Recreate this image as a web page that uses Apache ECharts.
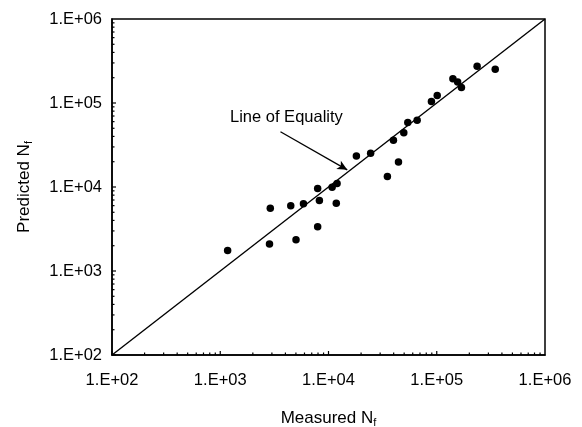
<!DOCTYPE html>
<html>
<head>
<meta charset="utf-8">
<script src="https://cdn.jsdelivr.net/npm/echarts@6/dist/echarts.min.js"></script>
<style>
  html, body { margin: 0; padding: 0; background: #fff; }
  #chart { width: 582px; height: 427px; }
</style>
</head>
<body>
<div id="chart"></div>
<script>
// measured vs predicted fatigue life
const measured = [1170, 2900, 2850, 4480, 5010, 5870, 7940, 8240, 7940, 10800, 12000, 11800,
  18100, 24500, 35000, 44300, 39800, 49600, 54000, 65900, 89300, 101000, 141000, 156000,
  169000, 236000, 347000];
const predicted = [1760, 5600, 2100, 6000, 2360, 6300, 9600, 6900, 3360, 9950, 11000, 6400,
  23400, 25200, 13300, 19900, 35900, 44200, 58700, 62500, 104000, 123000, 195000, 178000,
  153000, 273000, 252000];
const equalityLine = [[100, 100], [1000000, 1000000]];
const arrowFrom = [3600, 45400];
const arrowTo = [14900, 16000];
const tickLabels = ["1.E+02", "1.E+03", "1.E+04", "1.E+05", "1.E+06"];

const AXMIN = 100, AXMAX = 1000000;
const font = "Liberation Sans, Arial, sans-serif";

// log minor/major tick positions for left and bottom axes
let ticks = [];
for (let k = 2; k < 6; k++) {
  for (let m = 1; m <= 9; m++) {
    const v = m * Math.pow(10, k);
    ticks.push([v, AXMIN, m === 1 ? 1 : 0, 0]);
    ticks.push([AXMIN, v, m === 1 ? 1 : 0, 1]);
  }
}

const fmt = (v) => {
  const i = Math.round(Math.log10(v)) - 2;
  return tickLabels[i] || "";
};

const nameRich = {
  a: { fontFamily: font, fontSize: 17, color: "#000" },
  s: { fontFamily: font, fontSize: 11, color: "#000", verticalAlign: "bottom", padding: [9, 0, 0, 0] },
};

let chart = echarts.init(document.getElementById("chart"));
chart.setOption({
  backgroundColor: "#fff",
  animation: false,
  grid: {
    left: 112,
    right: 37,
    top: 19,
    bottom: 72,
    outerBoundsMode: "none",
    containLabel: false,
    show: true,
    borderColor: "#000",
    borderWidth: 1.5,
  },
  xAxis: {
    type: "log",
    logBase: 10,
    min: AXMIN,
    max: AXMAX,
    name: "{a|Measured N}{s|f}",
    nameLocation: "middle",
    nameGap: 53,
    nameTextStyle: { rich: nameRich },
    axisLine: { lineStyle: { color: "#000", width: 1.5 } },
    axisTick: { show: false },
    splitLine: { show: false },
    axisLabel: {
      formatter: fmt,
      margin: 17,
      fontFamily: font,
      fontSize: 16.5,
      color: "#000",
    },
  },
  yAxis: {
    type: "log",
    logBase: 10,
    min: AXMIN,
    max: AXMAX,
    name: "{a|Predicted N}{s|f}",
    nameLocation: "middle",
    nameGap: 78,
    nameRotate: 90,
    nameTextStyle: { rich: nameRich },
    axisLine: { lineStyle: { color: "#000", width: 1.5 } },
    axisTick: { show: false },
    splitLine: { show: false },
    axisLabel: {
      formatter: fmt,
      margin: 10,
      fontFamily: font,
      fontSize: 16.5,
      color: "#000",
    },
  },
  graphic: [
    {
      type: "text",
      left: 230,
      top: 109,
      style: { text: "Line of Equality", fontFamily: font, fontSize: 16.5, fill: "#000" },
    },
  ],
  series: [
    {
      type: "custom",
      silent: true,
      clip: false,
      encode: { x: 0, y: 1 },
      data: ticks,
      renderItem: (params, api) => {
        const major = api.value(2);
        const len = major ? 4 : 2.5;
        const p = api.coord([api.value(0), api.value(1)]);
        const isY = api.value(3) === 1;
        return {
          type: "line",
          shape: isY
            ? { x1: p[0], y1: p[1], x2: p[0] + len, y2: p[1] }
            : { x1: p[0], y1: p[1], x2: p[0], y2: p[1] - len },
          style: { stroke: "#000", lineWidth: 1.2 },
        };
      },
      z: 1,
    },
    {
      type: "line",
      data: equalityLine,
      symbol: "none",
      lineStyle: { color: "#000", width: 1.4 },
      z: 2,
      markLine: {
        silent: true,
        symbol: ["none", "arrow"],
        symbolSize: [7, 10],
        label: { show: false },
        lineStyle: { color: "#000", width: 1.3, type: "solid" },
        data: [[{ coord: arrowFrom }, { coord: arrowTo }]],
      },
    },
    {
      type: "scatter",
      data: measured.map((m, i) => [m, predicted[i]]),
      symbol: "circle",
      symbolSize: 7.5,
      itemStyle: { color: "#000", opacity: 1 },
      z: 3,
    },
  ],
});
</script>
</body>
</html>
